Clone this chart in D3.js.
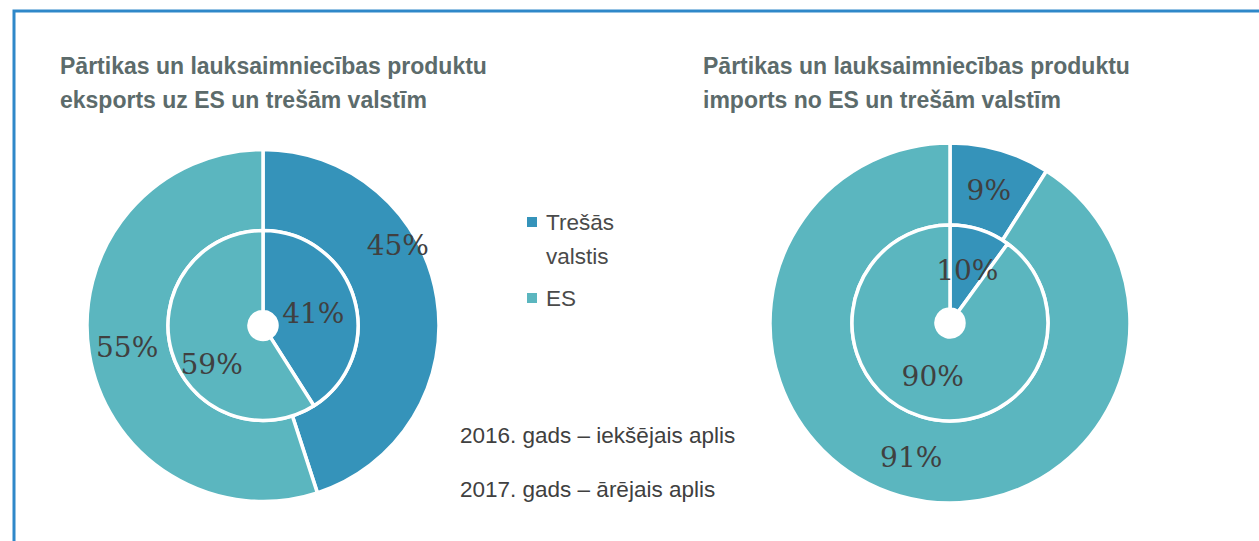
<!DOCTYPE html>
<html><head><meta charset="utf-8">
<script src="https://cdn.jsdelivr.net/npm/d3@7"></script>
<style>body{margin:0;background:#fff;}svg{display:block;}</style>
</head><body>
<svg id="c" width="1259" height="541"></svg>
<script>
// ---- data ----
const categories = ["Trešās valstis", "ES"];
const exports2016 = [41, 59];   // inner ring
const exports2017 = [45, 55];   // outer ring
const imports2016 = [10, 90];   // inner ring
const imports2017 = [9, 91];    // outer ring
const titleExport = ["Pārtikas un lauksaimniecības produktu", "eksports uz ES un trešām valstīm"];
const titleImport = ["Pārtikas un lauksaimniecības produktu", "imports no ES un trešām valstīm"];
const notes = ["2016. gads – iekšējais aplis", "2017. gads – ārējais aplis"];

// ---- style ----
const colors = ["#3593ba", "#5bb6bf"];
const svg = d3.select("#c");
const color = d3.scaleOrdinal().domain(categories).range(colors);

// border
svg.append("path").attr("d", "M14,541 L14,11 L1259,11")
  .attr("fill", "none").attr("stroke", "#2f88c9").attr("stroke-width", 3);

function titles(lines, x) {
  lines.forEach((t, i) => svg.append("text").attr("x", x).attr("y", 74 + i * 34)
    .attr("font-family", "Liberation Sans, Arial, sans-serif").attr("font-weight", "bold")
    .attr("font-size", 23).attr("fill", "#5c6b6b").text(t));
}
titles(titleExport, 60);
titles(titleImport, 703);

const pie = d3.pie().sort(null).value(d => d);

function donut(cx, cy, R, r, hole, inner, outer, labelOffsets) {
  const g = svg.append("g").attr("transform", `translate(${cx},${cy})`);
  const rings = [
    {vals: outer, ri: r, ro: R, off: labelOffsets.outer},
    {vals: inner, ri: hole, ro: r, off: labelOffsets.inner}
  ];
  rings.forEach(ring => {
    const arc = d3.arc().innerRadius(ring.ri).outerRadius(ring.ro);
    const arcs = pie(ring.vals);
    g.selectAll(null).data(arcs).enter().append("path")
      .attr("d", arc).attr("fill", (d, i) => color(categories[i]))
      .attr("stroke", "#fff").attr("stroke-width", 3.5).attr("stroke-linejoin", "round");
    g.selectAll(null).data(arcs).enter().append("text")
      .attr("transform", (d, i) => {
        const c = arc.centroid(d);
        const o = ring.off[i];
        return `translate(${c[0] + o[0]},${c[1] + o[1]})`;
      })
      .attr("text-anchor", "middle").attr("dy", "0.36em")
      .attr("font-family", "DejaVu Serif, serif").attr("font-size", 28)
      .attr("fill", "#404040").text(d => d.data + "%");
  });
  g.append("circle").attr("r", hole).attr("fill", "#fff");
}

donut(263, 325.5, 176, 95, 14, exports2016, exports2017,
  {outer: [[1, -59], [-2, 0]], inner: [[-2, 3], [1, 23]]});
donut(950, 323, 180, 98, 14, imports2016, imports2017,
  {outer: [[0, 0], [0, 0]], inner: [[0, 0], [0, 0]]});

// legend
const leg = svg.append("g");
const legLines = [["Trešās", "valstis"], ["ES"]];
const legY = [222, 298];
categories.forEach((c, i) => {
  leg.append("rect").attr("x", 527).attr("y", legY[i] - 5).attr("width", 10).attr("height", 10)
    .attr("fill", color(c));
  legLines[i].forEach((t, j) => leg.append("text").attr("x", 546).attr("y", legY[i] + 8 + j * 34)
    .attr("font-family", "Liberation Sans, Arial, sans-serif").attr("font-size", 22.5)
    .attr("fill", "#4a4a4a").text(t));
});

// notes
notes.forEach((t, i) => svg.append("text").attr("x", 460).attr("y", 443 + i * 54)
  .attr("font-family", "Liberation Sans, Arial, sans-serif").attr("font-size", 22.5)
  .attr("fill", "#404040").text(t));
</script>
</body></html>
